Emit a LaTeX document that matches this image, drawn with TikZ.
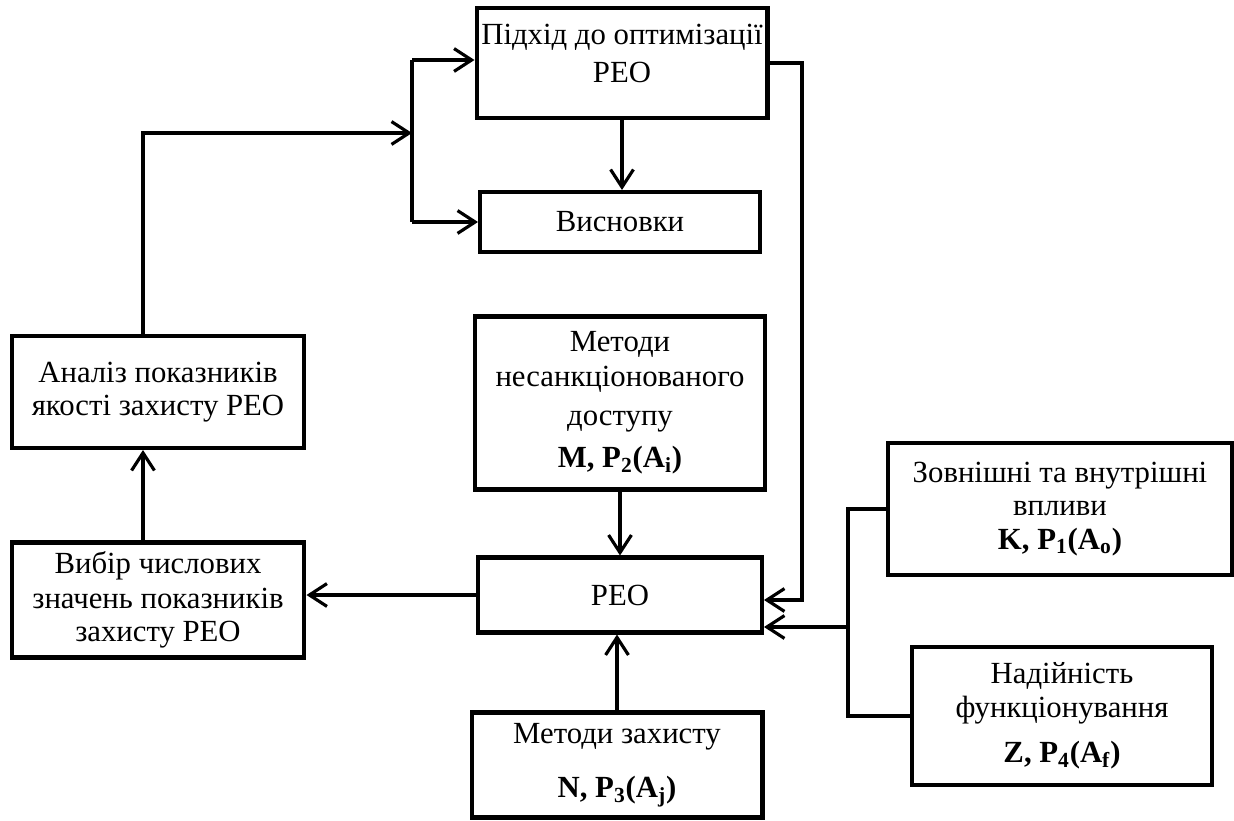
\documentclass[tikz,border=0pt]{standalone}
\usepackage{fontspec}
\setmainfont{Liberation Serif}
\usetikzlibrary{arrows.meta}

\begin{document}
\begin{tikzpicture}[
  x=0.02cm, y=-0.02cm,
  blok/.style={rectangle, draw, line width=2.3pt, align=center, inner sep=2pt, font=\fontsize{17.5}{19}\selectfont},
  arr/.style={-{Straight Barb[length=10pt,width=13pt,line width=1.8pt]}, line width=1.8pt},
  lin/.style={line width=1.8pt},
]
  \useasboundingbox (0,0) rectangle (1234,821);

  % Blocks, centre column
  \node[blok, minimum width=5.82cm, minimum height=2.2cm] (pidkhid) at (622,63) {Підхід до оптимізації\\[3pt]РЕО\\[-8pt]};
  \node[blok, minimum width=5.6cm, minimum height=1.2cm] (vysnovky) at (620,222) {Висновки};
  \node[blok, minimum width=5.8cm, minimum height=3.46cm] (metody) at (620,403) {Методи\\[1pt]несанкціонованого\\[3pt]доступу\\[5pt]\textbf{M, P\textsubscript{2}(A\textsubscript{i})}};
  \node[blok, minimum width=5.68cm, minimum height=1.5cm] (reo) at (620,595) {РЕО};
  \node[blok, minimum width=5.82cm, minimum height=2.1cm] (zakhyst) at (617,765) {Методи захисту\\[12pt]\textbf{N, P\textsubscript{3}(A\textsubscript{j})}};

  % Blocks, left column
  \node[blok, minimum width=5.86cm, minimum height=2.24cm] (analiz) at (158,392) {Аналіз показників\\якості захисту РЕО};
  \node[blok, minimum width=5.86cm, minimum height=2.3cm] (vybir) at (158,600) {Вибір числових\\[1pt]значень показників\\захисту РЕО};

  % Blocks, right column
  \node[blok, minimum width=6.88cm, minimum height=2.64cm] (zovn) at (1060,509) {Зовнішні та внутрішні\\впливи\\\textbf{K, P\textsubscript{1}(A\textsubscript{o})}};
  \node[blok, minimum width=6.0cm, minimum height=2.76cm] (nadiyn) at (1062,716) {Надійність\\функціонування\\[7pt]\textbf{Z, P\textsubscript{4}(A\textsubscript{f})}};

  % Junctions
  \coordinate (cA) at (143,133);
  \coordinate (jL) at (412,133);
  \coordinate (jLt) at (412,60);
  \coordinate (jLb) at (412,222);
  \coordinate (jR) at (802,600);
  \coordinate (jZ) at (848,627);

  % Connectors
  \draw[arr] (pidkhid.south) -- (pidkhid.south |- vysnovky.north);
  \draw[arr] (metody.south) -- (reo.north);
  \draw[arr] (zakhyst.north) -- (zakhyst.north |- reo.south);
  \draw[arr] (reo.west) -- (reo.west -| vybir.east);
  \draw[arr] (vybir.north -| cA) -- (analiz.south -| cA);
  \draw[arr] (analiz.north -| cA) -- (cA) -- (jL);
  \draw[lin] (jLt) -- (jLb);
  \draw[arr] (jLt) -- (jLt -| pidkhid.west);
  \draw[arr] (jLb) -- (jLb -| vysnovky.west);
  \draw[arr] (pidkhid.east) -| (jR) -- (jR -| reo.east);
  \draw[lin] (zovn.west) -| (jZ) |- (nadiyn.west);
  \draw[arr] (jZ) -- (jZ -| reo.east);
\end{tikzpicture}
\end{document}
